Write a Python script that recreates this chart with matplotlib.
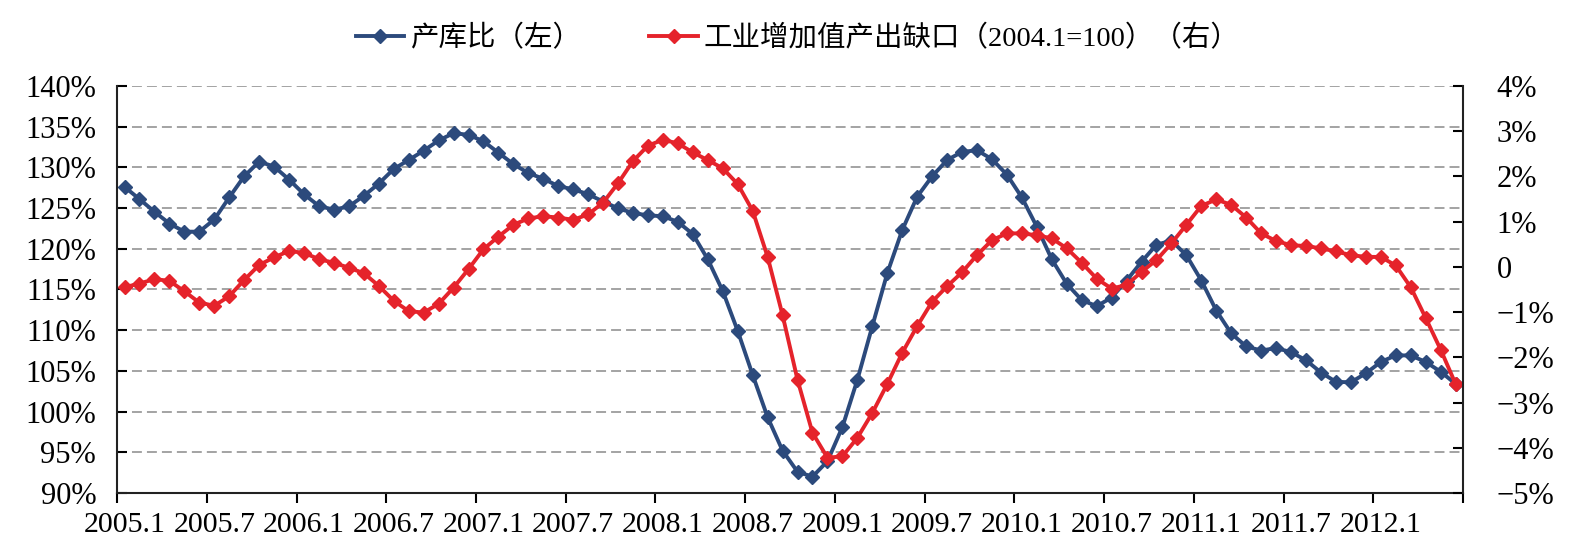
"""
产库比 vs 工业增加值产出缺口, 2005.1 - 2012.6 monthly
"""

import numpy as np
from matplotlib import pyplot

pyplot.rcParams['font.family'] = ['Liberation Serif', 'Noto Sans CJK SC']
pyplot.rcParams['axes.unicode_minus'] = True

# 产库比 (left axis, %)
ratio = [127.6, 126.1, 124.55, 123.1, 122.1, 122.1, 123.6, 126.3, 128.9,
         130.7, 130.1, 128.5, 126.7, 125.25, 124.8, 125.2, 126.5, 128.0,
         129.8, 130.9, 132.05, 133.3, 134.2, 134.0, 133.2, 131.8, 130.4,
         129.3, 128.6, 127.7, 127.3, 126.7, 125.8, 124.96, 124.4, 124.1,
         124.0, 123.3, 121.8, 118.7, 114.8, 109.9, 104.5, 99.3, 95.2,
         92.6, 92.0, 93.9, 98.1, 103.9, 110.5, 117.0, 122.3, 126.4,
         128.9, 130.9, 131.9, 132.1, 131.0, 129.1, 126.3, 122.7, 118.7,
         115.7, 113.7, 112.95, 114.0, 116.1, 118.4, 120.5, 121.0, 119.2,
         116.1, 112.4, 109.6, 108.0, 107.5, 107.8, 107.3, 106.3, 104.8,
         103.65, 103.6, 104.7, 106.1, 106.9, 106.9, 106.1, 104.9, 103.4]

# 工业增加值产出缺口 (right axis, %)
gap = [-0.45, -0.37, -0.27, -0.31, -0.54, -0.79, -0.86, -0.65, -0.29,
       0.04, 0.21, 0.35, 0.31, 0.17, 0.09, -0.02, -0.14, -0.42,
       -0.75, -0.98, -1.01, -0.82, -0.46, -0.05, 0.39, 0.67, 0.93,
       1.07, 1.12, 1.09, 1.04, 1.16, 1.42, 1.85, 2.34, 2.68,
       2.81, 2.73, 2.53, 2.36, 2.18, 1.83, 1.24, 0.22, -1.07,
       -2.5, -3.67, -4.22, -4.19, -3.78, -3.23, -2.59, -1.9, -1.31,
       -0.77, -0.43, -0.12, 0.26, 0.59, 0.74, 0.74, 0.70, 0.63,
       0.41, 0.09, -0.26, -0.48, -0.40, -0.11, 0.15, 0.52, 0.93,
       1.35, 1.49, 1.37, 1.09, 0.74, 0.57, 0.48, 0.46, 0.41,
       0.34, 0.26, 0.22, 0.22, 0.03, -0.45, -1.13, -1.83, -2.59]

xlabels = ["2005.1", "2005.7", "2006.1", "2006.7", "2007.1", "2007.7",
           "2008.1", "2008.7", "2009.1", "2009.7", "2010.1", "2010.7",
           "2011.1", "2011.7", "2012.1"]

left_ticks = [90, 95, 100, 105, 110, 115, 120, 125, 130, 135, 140]
right_ticks = [-5, -4, -3, -2, -1, 0, 1, 2, 3, 4]

blue = '#2c4a7c'
red = '#e5232b'

fig = pyplot.figure(figsize=(15.86, 5.51), dpi=100)
ax = fig.add_axes([0.0738, 0.1053, 0.8487, 0.7387])
ax2 = ax.twinx()

x = np.arange(len(ratio))
l1, = ax.plot(x, ratio, color=blue, lw=2.8, marker='D', ms=7,
              label="产库比（左）")
l2, = ax2.plot(x, gap, color=red, lw=2.8, marker='D', ms=7,
               label="工业增加值产出缺口（2004.1=100）（右）")

ax.set_xlim(-0.5, len(ratio) - 0.5)
ax.set_ylim(90, 140)
ax2.set_ylim(-5, 4)

# ticks between categories, labels on the category
ax.set_xticks(np.arange(-0.5, len(ratio), 6))
ax.set_xticklabels([])
ax.set_xticks(np.arange(0, len(xlabels) * 6, 6), minor=True)
ax.set_xticklabels(xlabels, minor=True, fontsize=21.5)
ax.tick_params(axis='x', which='major', direction='out', length=7, width=1.5)
ax.tick_params(axis='x', which='minor', length=0, pad=14)

ax.set_yticks(left_ticks)
ax.set_yticklabels(["%d%%" % v for v in left_ticks], fontsize=22)
ax.tick_params(axis='y', direction='in', length=7, width=1.5, pad=15)

ax2.set_yticks(right_ticks)
ax2.set_yticklabels(["0" if v == 0 else ("%d%%" % v).replace('-', '\u2212')
                     for v in right_ticks], fontsize=22)
ax2.tick_params(axis='y', direction='in', length=7, width=1.5, pad=24)

ax.yaxis.grid(True, color='#8a8a8a', lw=1.1, linestyle=(0, (6.5, 3.3)))
ax.set_axisbelow(True)

for a in (ax, ax2):
    a.spines['top'].set_visible(False)
    for s in ('left', 'right', 'bottom'):
        a.spines[s].set_linewidth(1.5)
        a.spines[s].set_color('#222222')
ax.spines['right'].set_visible(False)
ax2.spines['left'].set_visible(False)
ax2.spines['bottom'].set_visible(False)

fig.legend(handles=[l1, l2], loc='center', bbox_to_anchor=(0.503, 0.93),
           ncol=2, frameon=False, fontsize=20.5, handlelength=1.7,
           handletextpad=0.2, columnspacing=2.4)

fig.savefig("out.png", dpi=100)
